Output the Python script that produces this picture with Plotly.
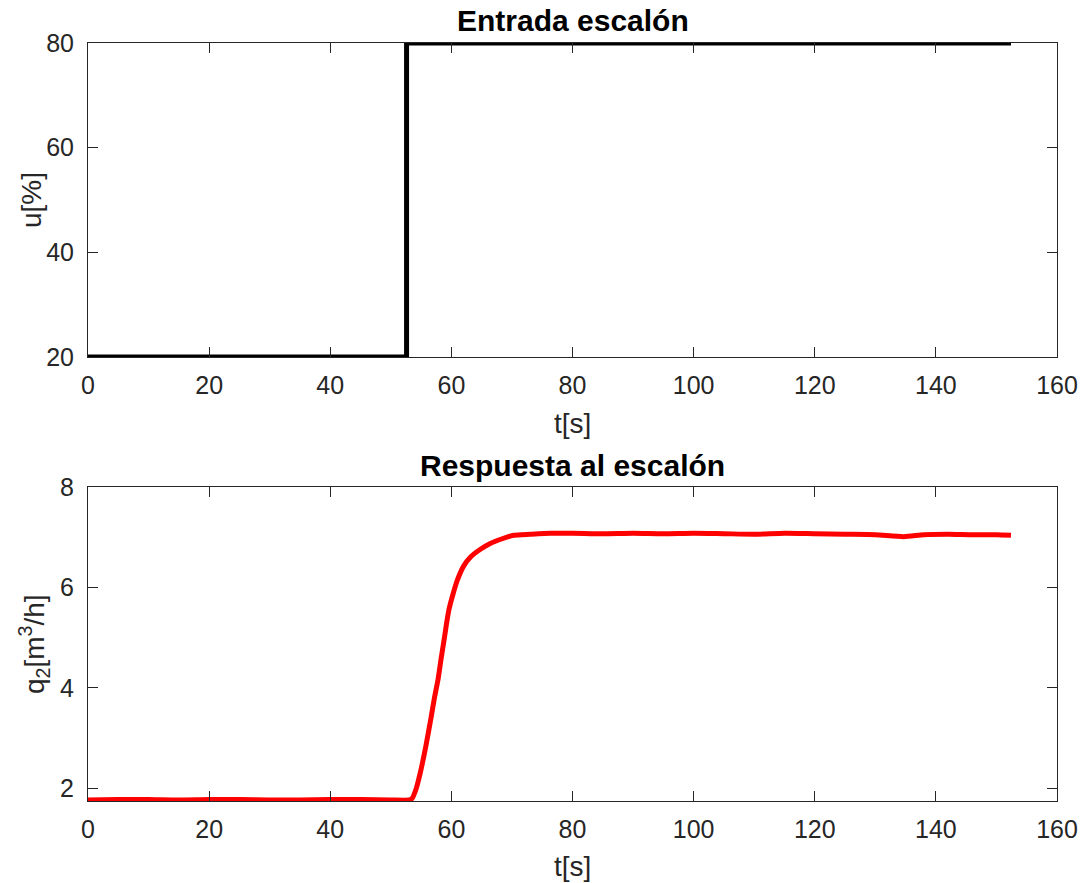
import plotly.graph_objects as go

# Step input
t_u = [0, 52.6, 52.6, 152.4]
u = [20, 20, 80, 80]

# Step response q2
t_q = [0, 5, 10, 15, 20, 25, 30, 35, 40, 45, 50, 53.0, 53.5, 54.2, 54.9, 55.8, 56.6,
       57.2, 57.8, 58.3, 58.8, 59.2, 59.6, 60.3, 61.0, 62.0, 63.2, 64.8, 66.5, 68.4,
       70.3, 73.0, 76.4, 80, 85, 90, 95, 100, 105, 110, 115, 120, 125, 130, 134.7,
       138, 142, 146, 150, 152.4]
q = [1.77, 1.78, 1.78, 1.77, 1.78, 1.78, 1.77, 1.77, 1.78, 1.78, 1.77, 1.77, 1.80, 2.0,
     2.33, 2.85, 3.38, 3.80, 4.17, 4.58, 4.96, 5.28, 5.56, 5.88, 6.15, 6.42, 6.61, 6.76,
     6.88, 6.97, 7.04, 7.06, 7.08, 7.08, 7.07, 7.08, 7.07, 7.08, 7.07, 7.06, 7.08, 7.07,
     7.06, 7.05, 7.01, 7.05, 7.06, 7.05, 7.05, 7.04]

x_ticks = [0, 20, 40, 60, 80, 100, 120, 140, 160]
u_ticks = [20, 40, 60, 80]
q_ticks = [2, 4, 6, 8]

W, H = 1089, 883


def fx(p):
    return p / W


def fy(p):
    return 1 - p / H


fig = go.Figure()
fig.add_trace(go.Scatter(x=t_u, y=u, mode="lines", line=dict(color="black", width=5),
                         xaxis="x", yaxis="y", showlegend=False))
fig.add_trace(go.Scatter(x=t_q, y=q, mode="lines",
                         line=dict(color="#ff0000", width=5, shape="spline", smoothing=0.6),
                         xaxis="x2", yaxis="y2", showlegend=False))

font_family = "Liberation Sans, Arial, sans-serif"
axcol = "#262626"
common = dict(showline=True, linecolor=axcol, linewidth=1, mirror="ticks", ticks="inside",
              ticklen=10, tickcolor=axcol, tickwidth=1, showgrid=False, zeroline=False,
              tickfont=dict(family=font_family, size=25, color=axcol), automargin=False)

x0, x1 = 88, 1057
top_y0, top_y1 = 43, 357
bot_y0, bot_y1 = 487, 801

fig.update_layout(
    width=W, height=H, margin=dict(l=0, r=0, t=0, b=0),
    paper_bgcolor="white", plot_bgcolor="white",
    xaxis=dict(domain=[fx(x0), fx(x1)], range=[0, 160], tickvals=x_ticks, anchor="y",
               ticklabelstandoff=6, **common),
    yaxis=dict(domain=[fy(top_y1), fy(top_y0)], range=[20, 80], tickvals=u_ticks, anchor="x",
               ticklabelstandoff=8, **common),
    xaxis2=dict(domain=[fx(x0), fx(x1)], range=[0, 160], tickvals=x_ticks, anchor="y2",
                ticklabelstandoff=6, **common),
    yaxis2=dict(domain=[fy(bot_y1), fy(bot_y0)], range=[1.75, 8], tickvals=q_ticks, anchor="x2",
                ticklabelstandoff=8, **common),
)

lab = dict(family=font_family, size=28, color=axcol)
ann = [
    dict(text="<b>Entrada escalón</b>", x=fx((x0 + x1) / 2), y=fy(21),
         font=dict(family=font_family, size=30, color="black")),
    dict(text="<b>Respuesta al escalón</b>", x=fx((x0 + x1) / 2), y=fy(465),
         font=dict(family=font_family, size=30, color="black")),
    dict(text="t[s]", x=fx((x0 + x1) / 2), y=fy(424), font=lab),
    dict(text="t[s]", x=fx((x0 + x1) / 2), y=fy(866), font=lab),
    dict(text="u[%]", x=fx(31), y=fy((top_y0 + top_y1) / 2), font=lab, textangle=-90),
    dict(text="q<sub>2</sub>[m<sup>3</sup>/h]", x=fx(34), y=fy((bot_y0 + bot_y1) / 2), font=lab,
         textangle=-90),
]
for a in ann:
    fig.add_annotation(xref="paper", yref="paper", showarrow=False, xanchor="center",
                       yanchor="middle", **a)

fig.write_html("out.html", config={"displayModeBar": False},
               post_script="document.body.style.margin='0px';document.body.style.overflow='hidden';")
